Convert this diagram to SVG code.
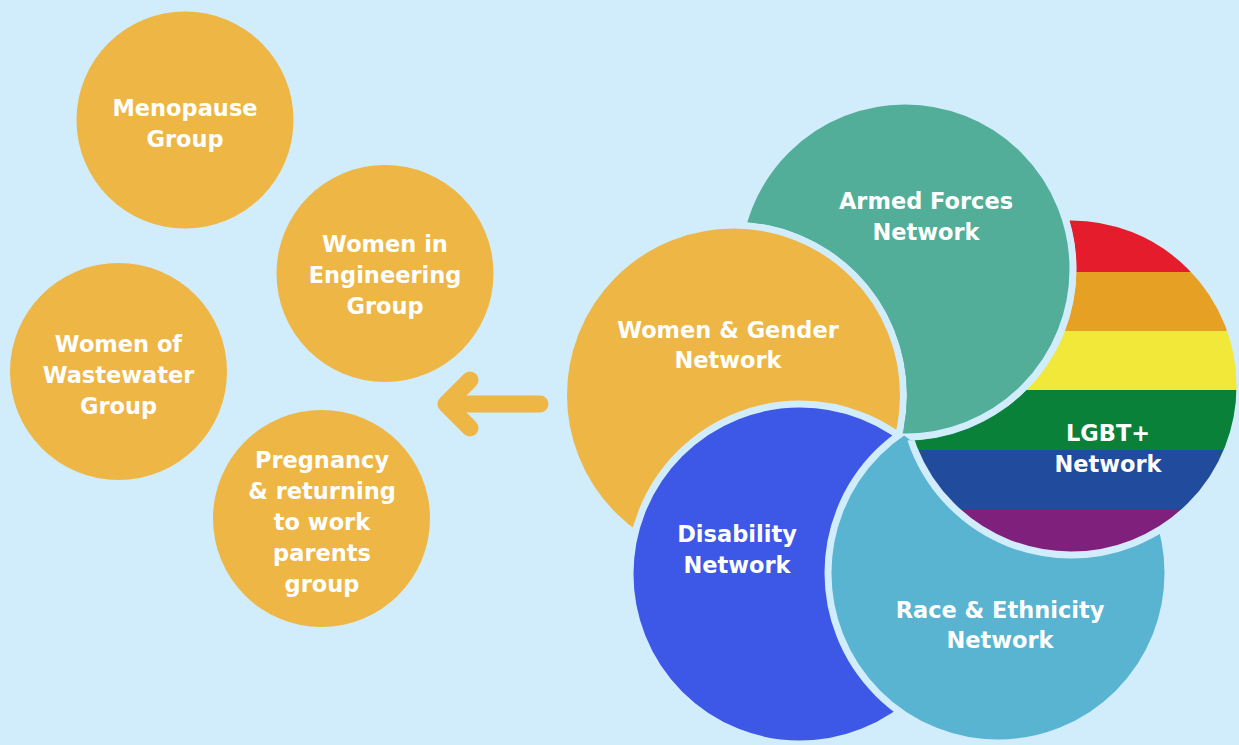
<svg xmlns="http://www.w3.org/2000/svg" width="1239" height="745" viewBox="0 0 1239 745">
<style>
.bg{fill:#D1ECFB}
.sm{fill:#EDB645}
.big{stroke:#D1ECFB;stroke-width:7}
.t{font-family:"DejaVu Sans","Liberation Sans",sans-serif;font-weight:bold;font-size:22.5px;fill:#FFFFFF;text-anchor:middle}
</style>
<defs>
<clipPath id="rbClip"><circle cx="1071" cy="386" r="169"/></clipPath>
<g id="rainbow">
<g clip-path="url(#rbClip)">
<rect x="890" y="210" width="360" height="63" fill="#E41C2B"/>
<rect x="890" y="272" width="360" height="60" fill="#E6A024"/>
<rect x="890" y="331" width="360" height="60" fill="#F1E83A"/>
<rect x="890" y="390" width="360" height="61" fill="#0A8138"/>
<rect x="890" y="450" width="360" height="60" fill="#214B9C"/>
<rect x="890" y="509" width="360" height="60" fill="#7F217C"/>
</g>
<circle cx="1071" cy="386" r="169" fill="none" stroke="#D1ECFB" stroke-width="7"/>
</g>
<circle id="tealC" class="big" cx="905" cy="269" r="168" fill="#52AE98"/>
<mask id="rbMask">
<rect x="0" y="0" width="1239" height="745" fill="#fff"/>
<circle cx="905" cy="269" r="171.5" fill="#000"/>
<circle cx="733.5" cy="395" r="173.5" fill="#000"/>
</mask>
<mask id="tealMask">
<rect x="0" y="0" width="1239" height="745" fill="#fff"/>
<circle cx="733.5" cy="395" r="173.5" fill="#000"/>
<circle cx="800" cy="574" r="173.5" fill="#000"/>
</mask>
</defs>
<rect class="bg" x="0" y="0" width="1239" height="745"/>

<g id="menopause">
<circle class="sm" cx="185" cy="120" r="108.5"/>
<text class="t" x="185" y="116">Menopause</text>
<text class="t" x="185" y="147">Group</text>
</g>
<g id="engineering">
<circle class="sm" cx="385" cy="273.5" r="108.5"/>
<text class="t" x="385" y="252">Women in</text>
<text class="t" x="385" y="283">Engineering</text>
<text class="t" x="385" y="314">Group</text>
</g>
<g id="wastewater">
<circle class="sm" cx="118.5" cy="371.5" r="108.5"/>
<text class="t" x="118.5" y="352">Women of</text>
<text class="t" x="118.5" y="383">Wastewater</text>
<text class="t" x="118.5" y="414">Group</text>
</g>
<g id="pregnancy">
<circle class="sm" cx="321.5" cy="518.5" r="108.5"/>
<text class="t" x="322" y="468">Pregnancy</text>
<text class="t" x="322" y="499">&amp; returning</text>
<text class="t" x="322" y="530">to work</text>
<text class="t" x="322" y="561">parents</text>
<text class="t" x="322" y="592">group</text>
</g>

<g id="connectors">
<path d="M540,404 H446 M470,380 L446,404 L470,428" fill="none" stroke="#EDB645" stroke-width="17" stroke-linecap="round" stroke-linejoin="round"/>
</g>

<g id="lgbt">
<use href="#rainbow"/>
</g>
<g id="armed">
<use href="#tealC"/>
</g>
<g id="women-gender">
<circle class="big" cx="733.5" cy="395" r="170" fill="#EDB645"/>
</g>
<g id="disability">
<circle class="big" cx="800" cy="574" r="170" fill="#3D58E6"/>
</g>
<g id="race">
<circle class="big" cx="998" cy="573" r="170" fill="#58B4D1"/>
</g>
<g id="lgbt-top" mask="url(#rbMask)">
<use href="#rainbow"/>
</g>
<g id="armed-top" mask="url(#tealMask)">
<use href="#tealC"/>
</g>

<g id="labels">
<text class="t" x="926" y="209">Armed Forces</text>
<text class="t" x="926" y="240">Network</text>
<text class="t" x="728" y="338">Women &amp; Gender</text>
<text class="t" x="728" y="368">Network</text>
<text class="t" x="737" y="542">Disability</text>
<text class="t" x="737" y="573">Network</text>
<text class="t" x="1108" y="441">LGBT+</text>
<text class="t" x="1108" y="472">Network</text>
<text class="t" x="1000" y="618">Race &amp; Ethnicity</text>
<text class="t" x="1000" y="648">Network</text>
</g>
</svg>
